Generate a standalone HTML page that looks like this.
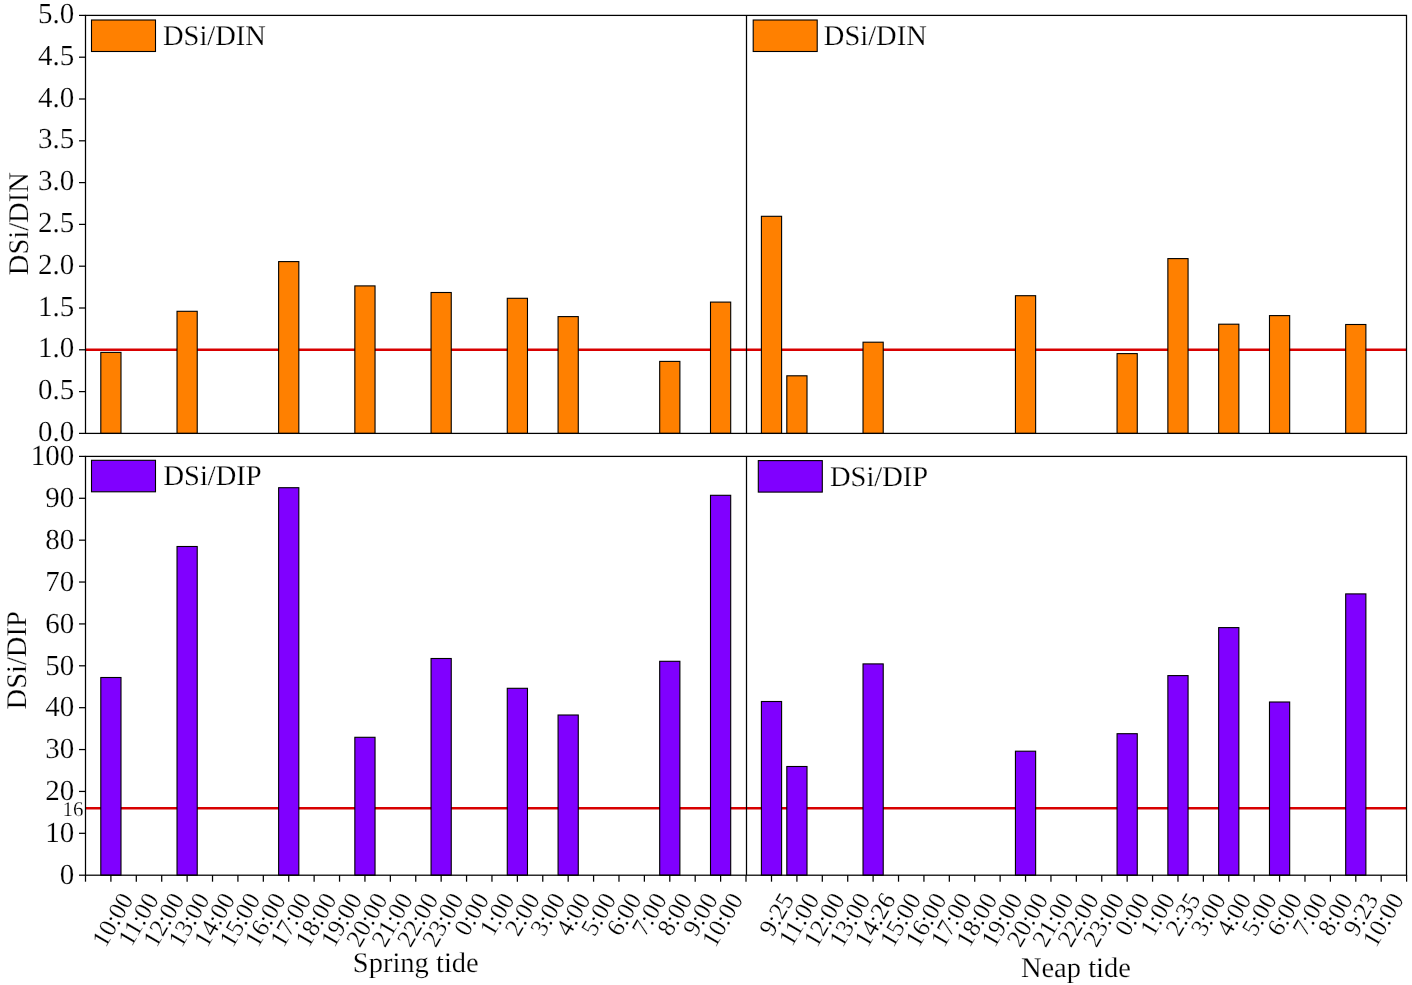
<!DOCTYPE html><html><head><meta charset="utf-8"><style>html,body{margin:0;padding:0;background:#fff;width:1412px;height:985px;overflow:hidden}svg{display:block;will-change:transform}text{font-family:"Liberation Serif",serif;fill:#000;text-rendering:geometricPrecision;stroke:#fff;stroke-width:0.2px}</style></head><body>
<svg width="1412" height="985" viewBox="0 0 1412 985">
<rect x="0" y="0" width="1412" height="985" fill="#fff"/>
<line x1="85.5" y1="349.80" x2="1406.5" y2="349.80" stroke="#D80000" stroke-width="2.6"/>
<line x1="85.5" y1="808.19" x2="1406.5" y2="808.19" stroke="#D80000" stroke-width="2.6"/>
<rect x="100.80" y="352.40" width="20.20" height="81.00" fill="#FF8000" stroke="#000" stroke-width="1.1"/>
<rect x="177.02" y="311.30" width="20.20" height="122.10" fill="#FF8000" stroke="#000" stroke-width="1.1"/>
<rect x="278.63" y="261.60" width="20.20" height="171.80" fill="#FF8000" stroke="#000" stroke-width="1.1"/>
<rect x="354.84" y="285.90" width="20.20" height="147.50" fill="#FF8000" stroke="#000" stroke-width="1.1"/>
<rect x="431.05" y="292.50" width="20.20" height="140.90" fill="#FF8000" stroke="#000" stroke-width="1.1"/>
<rect x="507.27" y="298.30" width="20.20" height="135.10" fill="#FF8000" stroke="#000" stroke-width="1.1"/>
<rect x="558.07" y="316.60" width="20.20" height="116.80" fill="#FF8000" stroke="#000" stroke-width="1.1"/>
<rect x="659.69" y="361.40" width="20.20" height="72.00" fill="#FF8000" stroke="#000" stroke-width="1.1"/>
<rect x="710.50" y="302.10" width="20.20" height="131.30" fill="#FF8000" stroke="#000" stroke-width="1.1"/>
<rect x="761.40" y="216.30" width="20.20" height="217.10" fill="#FF8000" stroke="#000" stroke-width="1.1"/>
<rect x="786.81" y="375.80" width="20.20" height="57.60" fill="#FF8000" stroke="#000" stroke-width="1.1"/>
<rect x="863.02" y="342.20" width="20.20" height="91.20" fill="#FF8000" stroke="#000" stroke-width="1.1"/>
<rect x="1015.44" y="295.70" width="20.20" height="137.70" fill="#FF8000" stroke="#000" stroke-width="1.1"/>
<rect x="1117.06" y="353.60" width="20.20" height="79.80" fill="#FF8000" stroke="#000" stroke-width="1.1"/>
<rect x="1167.87" y="258.60" width="20.20" height="174.80" fill="#FF8000" stroke="#000" stroke-width="1.1"/>
<rect x="1218.67" y="324.20" width="20.20" height="109.20" fill="#FF8000" stroke="#000" stroke-width="1.1"/>
<rect x="1269.48" y="315.60" width="20.20" height="117.80" fill="#FF8000" stroke="#000" stroke-width="1.1"/>
<rect x="1345.69" y="324.50" width="20.20" height="108.90" fill="#FF8000" stroke="#000" stroke-width="1.1"/>
<rect x="100.80" y="677.50" width="20.20" height="197.70" fill="#8000FF" stroke="#000" stroke-width="1.1"/>
<rect x="177.02" y="546.50" width="20.20" height="328.70" fill="#8000FF" stroke="#000" stroke-width="1.1"/>
<rect x="278.63" y="487.70" width="20.20" height="387.50" fill="#8000FF" stroke="#000" stroke-width="1.1"/>
<rect x="354.84" y="737.30" width="20.20" height="137.90" fill="#8000FF" stroke="#000" stroke-width="1.1"/>
<rect x="431.05" y="658.50" width="20.20" height="216.70" fill="#8000FF" stroke="#000" stroke-width="1.1"/>
<rect x="507.27" y="688.30" width="20.20" height="186.90" fill="#8000FF" stroke="#000" stroke-width="1.1"/>
<rect x="558.07" y="715.00" width="20.20" height="160.20" fill="#8000FF" stroke="#000" stroke-width="1.1"/>
<rect x="659.69" y="661.30" width="20.20" height="213.90" fill="#8000FF" stroke="#000" stroke-width="1.1"/>
<rect x="710.50" y="495.30" width="20.20" height="379.90" fill="#8000FF" stroke="#000" stroke-width="1.1"/>
<rect x="761.40" y="701.50" width="20.20" height="173.70" fill="#8000FF" stroke="#000" stroke-width="1.1"/>
<rect x="786.81" y="766.50" width="20.20" height="108.70" fill="#8000FF" stroke="#000" stroke-width="1.1"/>
<rect x="863.02" y="663.90" width="20.20" height="211.30" fill="#8000FF" stroke="#000" stroke-width="1.1"/>
<rect x="1015.44" y="751.20" width="20.20" height="124.00" fill="#8000FF" stroke="#000" stroke-width="1.1"/>
<rect x="1117.06" y="733.70" width="20.20" height="141.50" fill="#8000FF" stroke="#000" stroke-width="1.1"/>
<rect x="1167.87" y="675.60" width="20.20" height="199.60" fill="#8000FF" stroke="#000" stroke-width="1.1"/>
<rect x="1218.67" y="627.60" width="20.20" height="247.60" fill="#8000FF" stroke="#000" stroke-width="1.1"/>
<rect x="1269.48" y="702.00" width="20.20" height="173.20" fill="#8000FF" stroke="#000" stroke-width="1.1"/>
<rect x="1345.69" y="593.90" width="20.20" height="281.30" fill="#8000FF" stroke="#000" stroke-width="1.1"/>
<rect x="85.5" y="15.4" width="1321.0" height="418.0" fill="none" stroke="#000" stroke-width="1.25"/>
<line x1="746.5" y1="15.4" x2="746.5" y2="433.4" stroke="#000" stroke-width="1.25"/>
<rect x="85.5" y="456.4" width="1321.0" height="418.80000000000007" fill="none" stroke="#000" stroke-width="1.25"/>
<line x1="746.5" y1="456.4" x2="746.5" y2="875.2" stroke="#000" stroke-width="1.25"/>
<line x1="79.0" y1="433.40" x2="85.5" y2="433.40" stroke="#000" stroke-width="1.25"/>
<text x="74.2" y="441.00" font-size="29" text-anchor="end">0.0</text>
<line x1="79.0" y1="391.60" x2="85.5" y2="391.60" stroke="#000" stroke-width="1.25"/>
<text x="74.2" y="399.20" font-size="29" text-anchor="end">0.5</text>
<line x1="79.0" y1="349.80" x2="85.5" y2="349.80" stroke="#000" stroke-width="1.25"/>
<text x="74.2" y="357.40" font-size="29" text-anchor="end">1.0</text>
<line x1="79.0" y1="308.00" x2="85.5" y2="308.00" stroke="#000" stroke-width="1.25"/>
<text x="74.2" y="315.60" font-size="29" text-anchor="end">1.5</text>
<line x1="79.0" y1="266.20" x2="85.5" y2="266.20" stroke="#000" stroke-width="1.25"/>
<text x="74.2" y="273.80" font-size="29" text-anchor="end">2.0</text>
<line x1="79.0" y1="224.40" x2="85.5" y2="224.40" stroke="#000" stroke-width="1.25"/>
<text x="74.2" y="232.00" font-size="29" text-anchor="end">2.5</text>
<line x1="79.0" y1="182.60" x2="85.5" y2="182.60" stroke="#000" stroke-width="1.25"/>
<text x="74.2" y="190.20" font-size="29" text-anchor="end">3.0</text>
<line x1="79.0" y1="140.80" x2="85.5" y2="140.80" stroke="#000" stroke-width="1.25"/>
<text x="74.2" y="148.40" font-size="29" text-anchor="end">3.5</text>
<line x1="79.0" y1="99.00" x2="85.5" y2="99.00" stroke="#000" stroke-width="1.25"/>
<text x="74.2" y="106.60" font-size="29" text-anchor="end">4.0</text>
<line x1="79.0" y1="57.20" x2="85.5" y2="57.20" stroke="#000" stroke-width="1.25"/>
<text x="74.2" y="64.80" font-size="29" text-anchor="end">4.5</text>
<line x1="79.0" y1="15.40" x2="85.5" y2="15.40" stroke="#000" stroke-width="1.25"/>
<text x="74.2" y="23.00" font-size="29" text-anchor="end">5.0</text>
<line x1="79.0" y1="875.20" x2="85.5" y2="875.20" stroke="#000" stroke-width="1.25"/>
<text x="74.2" y="884.00" font-size="29" text-anchor="end">0</text>
<line x1="79.0" y1="833.32" x2="85.5" y2="833.32" stroke="#000" stroke-width="1.25"/>
<text x="74.2" y="842.12" font-size="29" text-anchor="end">10</text>
<line x1="79.0" y1="791.44" x2="85.5" y2="791.44" stroke="#000" stroke-width="1.25"/>
<text x="74.2" y="800.24" font-size="29" text-anchor="end">20</text>
<line x1="79.0" y1="749.56" x2="85.5" y2="749.56" stroke="#000" stroke-width="1.25"/>
<text x="74.2" y="758.36" font-size="29" text-anchor="end">30</text>
<line x1="79.0" y1="707.68" x2="85.5" y2="707.68" stroke="#000" stroke-width="1.25"/>
<text x="74.2" y="716.48" font-size="29" text-anchor="end">40</text>
<line x1="79.0" y1="665.80" x2="85.5" y2="665.80" stroke="#000" stroke-width="1.25"/>
<text x="74.2" y="674.60" font-size="29" text-anchor="end">50</text>
<line x1="79.0" y1="623.92" x2="85.5" y2="623.92" stroke="#000" stroke-width="1.25"/>
<text x="74.2" y="632.72" font-size="29" text-anchor="end">60</text>
<line x1="79.0" y1="582.04" x2="85.5" y2="582.04" stroke="#000" stroke-width="1.25"/>
<text x="74.2" y="590.84" font-size="29" text-anchor="end">70</text>
<line x1="79.0" y1="540.16" x2="85.5" y2="540.16" stroke="#000" stroke-width="1.25"/>
<text x="74.2" y="548.96" font-size="29" text-anchor="end">80</text>
<line x1="79.0" y1="498.28" x2="85.5" y2="498.28" stroke="#000" stroke-width="1.25"/>
<text x="74.2" y="507.08" font-size="29" text-anchor="end">90</text>
<line x1="79.0" y1="456.40" x2="85.5" y2="456.40" stroke="#000" stroke-width="1.25"/>
<text x="74.2" y="465.20" font-size="29" text-anchor="end">100</text>
<text x="83.6" y="816.49" font-size="21" text-anchor="end">16</text>
<line x1="85.50" y1="875.2" x2="85.50" y2="881.7" stroke="#000" stroke-width="1.25"/>
<line x1="110.90" y1="875.2" x2="110.90" y2="881.7" stroke="#000" stroke-width="1.25"/>
<line x1="136.31" y1="875.2" x2="136.31" y2="881.7" stroke="#000" stroke-width="1.25"/>
<line x1="161.71" y1="875.2" x2="161.71" y2="881.7" stroke="#000" stroke-width="1.25"/>
<line x1="187.12" y1="875.2" x2="187.12" y2="881.7" stroke="#000" stroke-width="1.25"/>
<line x1="212.52" y1="875.2" x2="212.52" y2="881.7" stroke="#000" stroke-width="1.25"/>
<line x1="237.92" y1="875.2" x2="237.92" y2="881.7" stroke="#000" stroke-width="1.25"/>
<line x1="263.33" y1="875.2" x2="263.33" y2="881.7" stroke="#000" stroke-width="1.25"/>
<line x1="288.73" y1="875.2" x2="288.73" y2="881.7" stroke="#000" stroke-width="1.25"/>
<line x1="314.13" y1="875.2" x2="314.13" y2="881.7" stroke="#000" stroke-width="1.25"/>
<line x1="339.54" y1="875.2" x2="339.54" y2="881.7" stroke="#000" stroke-width="1.25"/>
<line x1="364.94" y1="875.2" x2="364.94" y2="881.7" stroke="#000" stroke-width="1.25"/>
<line x1="390.35" y1="875.2" x2="390.35" y2="881.7" stroke="#000" stroke-width="1.25"/>
<line x1="415.75" y1="875.2" x2="415.75" y2="881.7" stroke="#000" stroke-width="1.25"/>
<line x1="441.15" y1="875.2" x2="441.15" y2="881.7" stroke="#000" stroke-width="1.25"/>
<line x1="466.56" y1="875.2" x2="466.56" y2="881.7" stroke="#000" stroke-width="1.25"/>
<line x1="491.96" y1="875.2" x2="491.96" y2="881.7" stroke="#000" stroke-width="1.25"/>
<line x1="517.37" y1="875.2" x2="517.37" y2="881.7" stroke="#000" stroke-width="1.25"/>
<line x1="542.77" y1="875.2" x2="542.77" y2="881.7" stroke="#000" stroke-width="1.25"/>
<line x1="568.17" y1="875.2" x2="568.17" y2="881.7" stroke="#000" stroke-width="1.25"/>
<line x1="593.58" y1="875.2" x2="593.58" y2="881.7" stroke="#000" stroke-width="1.25"/>
<line x1="618.98" y1="875.2" x2="618.98" y2="881.7" stroke="#000" stroke-width="1.25"/>
<line x1="644.38" y1="875.2" x2="644.38" y2="881.7" stroke="#000" stroke-width="1.25"/>
<line x1="669.79" y1="875.2" x2="669.79" y2="881.7" stroke="#000" stroke-width="1.25"/>
<line x1="695.19" y1="875.2" x2="695.19" y2="881.7" stroke="#000" stroke-width="1.25"/>
<line x1="720.60" y1="875.2" x2="720.60" y2="881.7" stroke="#000" stroke-width="1.25"/>
<line x1="746.00" y1="875.2" x2="746.00" y2="881.7" stroke="#000" stroke-width="1.25"/>
<line x1="771.50" y1="875.2" x2="771.50" y2="881.7" stroke="#000" stroke-width="1.25"/>
<line x1="796.91" y1="875.2" x2="796.91" y2="881.7" stroke="#000" stroke-width="1.25"/>
<line x1="822.31" y1="875.2" x2="822.31" y2="881.7" stroke="#000" stroke-width="1.25"/>
<line x1="847.72" y1="875.2" x2="847.72" y2="881.7" stroke="#000" stroke-width="1.25"/>
<line x1="873.12" y1="875.2" x2="873.12" y2="881.7" stroke="#000" stroke-width="1.25"/>
<line x1="898.52" y1="875.2" x2="898.52" y2="881.7" stroke="#000" stroke-width="1.25"/>
<line x1="923.93" y1="875.2" x2="923.93" y2="881.7" stroke="#000" stroke-width="1.25"/>
<line x1="949.33" y1="875.2" x2="949.33" y2="881.7" stroke="#000" stroke-width="1.25"/>
<line x1="974.73" y1="875.2" x2="974.73" y2="881.7" stroke="#000" stroke-width="1.25"/>
<line x1="1000.14" y1="875.2" x2="1000.14" y2="881.7" stroke="#000" stroke-width="1.25"/>
<line x1="1025.54" y1="875.2" x2="1025.54" y2="881.7" stroke="#000" stroke-width="1.25"/>
<line x1="1050.95" y1="875.2" x2="1050.95" y2="881.7" stroke="#000" stroke-width="1.25"/>
<line x1="1076.35" y1="875.2" x2="1076.35" y2="881.7" stroke="#000" stroke-width="1.25"/>
<line x1="1101.75" y1="875.2" x2="1101.75" y2="881.7" stroke="#000" stroke-width="1.25"/>
<line x1="1127.16" y1="875.2" x2="1127.16" y2="881.7" stroke="#000" stroke-width="1.25"/>
<line x1="1152.56" y1="875.2" x2="1152.56" y2="881.7" stroke="#000" stroke-width="1.25"/>
<line x1="1177.97" y1="875.2" x2="1177.97" y2="881.7" stroke="#000" stroke-width="1.25"/>
<line x1="1203.37" y1="875.2" x2="1203.37" y2="881.7" stroke="#000" stroke-width="1.25"/>
<line x1="1228.77" y1="875.2" x2="1228.77" y2="881.7" stroke="#000" stroke-width="1.25"/>
<line x1="1254.18" y1="875.2" x2="1254.18" y2="881.7" stroke="#000" stroke-width="1.25"/>
<line x1="1279.58" y1="875.2" x2="1279.58" y2="881.7" stroke="#000" stroke-width="1.25"/>
<line x1="1304.98" y1="875.2" x2="1304.98" y2="881.7" stroke="#000" stroke-width="1.25"/>
<line x1="1330.39" y1="875.2" x2="1330.39" y2="881.7" stroke="#000" stroke-width="1.25"/>
<line x1="1355.79" y1="875.2" x2="1355.79" y2="881.7" stroke="#000" stroke-width="1.25"/>
<line x1="1381.20" y1="875.2" x2="1381.20" y2="881.7" stroke="#000" stroke-width="1.25"/>
<line x1="1406.60" y1="875.2" x2="1406.60" y2="881.7" stroke="#000" stroke-width="1.25"/>
<text transform="translate(134.10,899.1) rotate(-60)" font-size="25.0" text-anchor="end">10:00</text>
<text transform="translate(159.51,899.1) rotate(-60)" font-size="25.0" text-anchor="end">11:00</text>
<text transform="translate(184.91,899.1) rotate(-60)" font-size="25.0" text-anchor="end">12:00</text>
<text transform="translate(210.32,899.1) rotate(-60)" font-size="25.0" text-anchor="end">13:00</text>
<text transform="translate(235.72,899.1) rotate(-60)" font-size="25.0" text-anchor="end">14:00</text>
<text transform="translate(261.12,899.1) rotate(-60)" font-size="25.0" text-anchor="end">15:00</text>
<text transform="translate(286.53,899.1) rotate(-60)" font-size="25.0" text-anchor="end">16:00</text>
<text transform="translate(311.93,899.1) rotate(-60)" font-size="25.0" text-anchor="end">17:00</text>
<text transform="translate(337.33,899.1) rotate(-60)" font-size="25.0" text-anchor="end">18:00</text>
<text transform="translate(362.74,899.1) rotate(-60)" font-size="25.0" text-anchor="end">19:00</text>
<text transform="translate(388.14,899.1) rotate(-60)" font-size="25.0" text-anchor="end">20:00</text>
<text transform="translate(413.55,899.1) rotate(-60)" font-size="25.0" text-anchor="end">21:00</text>
<text transform="translate(438.95,899.1) rotate(-60)" font-size="25.0" text-anchor="end">22:00</text>
<text transform="translate(464.35,899.1) rotate(-60)" font-size="25.0" text-anchor="end">23:00</text>
<text transform="translate(489.76,899.1) rotate(-60)" font-size="25.0" text-anchor="end">0:00</text>
<text transform="translate(515.16,899.1) rotate(-60)" font-size="25.0" text-anchor="end">1:00</text>
<text transform="translate(540.57,899.1) rotate(-60)" font-size="25.0" text-anchor="end">2:00</text>
<text transform="translate(565.97,899.1) rotate(-60)" font-size="25.0" text-anchor="end">3:00</text>
<text transform="translate(591.37,899.1) rotate(-60)" font-size="25.0" text-anchor="end">4:00</text>
<text transform="translate(616.78,899.1) rotate(-60)" font-size="25.0" text-anchor="end">5:00</text>
<text transform="translate(642.18,899.1) rotate(-60)" font-size="25.0" text-anchor="end">6:00</text>
<text transform="translate(667.58,899.1) rotate(-60)" font-size="25.0" text-anchor="end">7:00</text>
<text transform="translate(692.99,899.1) rotate(-60)" font-size="25.0" text-anchor="end">8:00</text>
<text transform="translate(718.39,899.1) rotate(-60)" font-size="25.0" text-anchor="end">9:00</text>
<text transform="translate(743.80,899.1) rotate(-60)" font-size="25.0" text-anchor="end">10:00</text>
<text transform="translate(794.70,899.1) rotate(-60)" font-size="25.0" text-anchor="end">9:25</text>
<text transform="translate(820.11,899.1) rotate(-60)" font-size="25.0" text-anchor="end">11:00</text>
<text transform="translate(845.51,899.1) rotate(-60)" font-size="25.0" text-anchor="end">12:00</text>
<text transform="translate(870.92,899.1) rotate(-60)" font-size="25.0" text-anchor="end">13:00</text>
<text transform="translate(896.32,899.1) rotate(-60)" font-size="25.0" text-anchor="end">14:26</text>
<text transform="translate(921.72,899.1) rotate(-60)" font-size="25.0" text-anchor="end">15:00</text>
<text transform="translate(947.13,899.1) rotate(-60)" font-size="25.0" text-anchor="end">16:00</text>
<text transform="translate(972.53,899.1) rotate(-60)" font-size="25.0" text-anchor="end">17:00</text>
<text transform="translate(997.93,899.1) rotate(-60)" font-size="25.0" text-anchor="end">18:00</text>
<text transform="translate(1023.34,899.1) rotate(-60)" font-size="25.0" text-anchor="end">19:00</text>
<text transform="translate(1048.74,899.1) rotate(-60)" font-size="25.0" text-anchor="end">20:00</text>
<text transform="translate(1074.15,899.1) rotate(-60)" font-size="25.0" text-anchor="end">21:00</text>
<text transform="translate(1099.55,899.1) rotate(-60)" font-size="25.0" text-anchor="end">22:00</text>
<text transform="translate(1124.95,899.1) rotate(-60)" font-size="25.0" text-anchor="end">23:00</text>
<text transform="translate(1150.36,899.1) rotate(-60)" font-size="25.0" text-anchor="end">0:00</text>
<text transform="translate(1175.76,899.1) rotate(-60)" font-size="25.0" text-anchor="end">1:00</text>
<text transform="translate(1201.17,899.1) rotate(-60)" font-size="25.0" text-anchor="end">2:35</text>
<text transform="translate(1226.57,899.1) rotate(-60)" font-size="25.0" text-anchor="end">3:00</text>
<text transform="translate(1251.97,899.1) rotate(-60)" font-size="25.0" text-anchor="end">4:00</text>
<text transform="translate(1277.38,899.1) rotate(-60)" font-size="25.0" text-anchor="end">5:00</text>
<text transform="translate(1302.78,899.1) rotate(-60)" font-size="25.0" text-anchor="end">6:00</text>
<text transform="translate(1328.18,899.1) rotate(-60)" font-size="25.0" text-anchor="end">7:00</text>
<text transform="translate(1353.59,899.1) rotate(-60)" font-size="25.0" text-anchor="end">8:00</text>
<text transform="translate(1378.99,899.1) rotate(-60)" font-size="25.0" text-anchor="end">9:23</text>
<text transform="translate(1404.40,899.1) rotate(-60)" font-size="25.0" text-anchor="end">10:00</text>
<rect x="91.5" y="20" width="64" height="31.5" fill="#FF8000" stroke="#000" stroke-width="1.1"/>
<text x="163" y="45" font-size="28.5">DSi/DIN</text>
<rect x="753.2" y="20" width="64" height="31.5" fill="#FF8000" stroke="#000" stroke-width="1.1"/>
<text x="823.8" y="45" font-size="28.5">DSi/DIN</text>
<rect x="91.5" y="460.3" width="64" height="31.5" fill="#8000FF" stroke="#000" stroke-width="1.1"/>
<text x="163.5" y="485" font-size="28.5">DSi/DIP</text>
<rect x="758.3" y="460.6" width="64" height="31.5" fill="#8000FF" stroke="#000" stroke-width="1.1"/>
<text x="830" y="485.5" font-size="28.5">DSi/DIP</text>
<text transform="translate(28,223.7) rotate(-90)" font-size="28.5" text-anchor="middle">DSi/DIN</text>
<text transform="translate(26.2,660.3) rotate(-90)" font-size="28.5" text-anchor="middle">DSi/DIP</text>
<text x="415.8" y="971.5" font-size="28.5" text-anchor="middle">Spring tide</text>
<text x="1075.9" y="977" font-size="28.5" text-anchor="middle">Neap tide</text>
</svg></body></html>
